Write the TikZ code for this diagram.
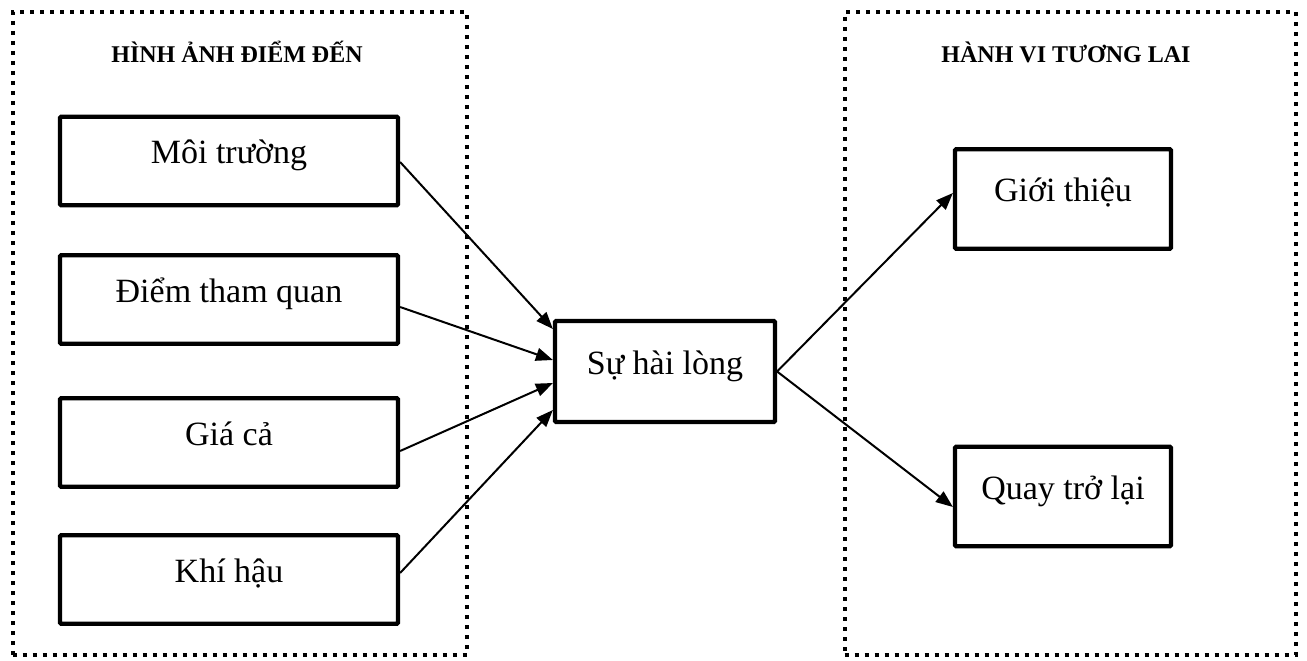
\documentclass[tikz,border=0pt]{standalone}
\usepackage{fontspec}
\setmainfont{Liberation Serif}
\usetikzlibrary{arrows.meta,calc}
\begin{document}
\begin{tikzpicture}[x=1pt,y=-1pt,
  groupbox/.style={draw, line width=4pt, dash pattern=on 4pt off 6pt,
    minimum width=#1, minimum height=643pt, inner sep=0pt},
  grouptitle/.style={font=\fontsize{24}{28}\selectfont\bfseries, inner sep=0pt},
  factor/.style={draw, line width=4.2pt, rounded corners=1pt,
    minimum width=338pt, minimum height=88.5pt, inner sep=0pt,
    text height=15pt, text depth=10pt, font=\fontsize{34}{40}\selectfont},
  hub/.style={factor, minimum width=220pt, minimum height=101pt},
  outcome/.style={factor, minimum width=216pt, minimum height=99.5pt},
  link/.style={line width=2pt, -{Triangle[length=17pt,width=13pt]}}]

\useasboundingbox (0,0) rectangle (1307,661);

% the two dotted groups and their titles
\node[groupbox=454pt] (gleft) at (239.5,333.5) {};
\node[groupbox=451pt] (gright) at (1070,333.5) {};
\node[grouptitle] (tleft) at (237,52) {HÌNH ẢNH ĐIỂM ĐẾN};
\node[grouptitle] (tright) at (1066,52) {HÀNH VI TƯƠNG LAI};

% destination image factors
\node[factor] (env) at (229,161) {Môi trường};
\node[factor] (att) at (229,299.5) {Điểm tham quan};
\node[factor] (pri) at (229,442.5) {Giá cả};
\node[factor] (cli) at (229,579.5) {Khí hậu};

% satisfaction
\node[hub] (sat) at (665,371.5) {Sự hài lòng};

% future behaviour
\node[outcome] (rec) at (1063,199) {Giới thiệu};
\node[outcome] (ret) at (1063,496.5) {Quay trở lại};

% connectors
\draw[link] ($(env.east)+(0,1)$) -- ($(sat.west)+(0,-42.5)$);
\draw[link] ($(att.east)+(0,7.5)$) -- ($(sat.west)+(0,-11.5)$);
\draw[link] ($(pri.east)+(0,8.5)$) -- ($(sat.west)+(0,11.5)$);
\draw[link] ($(cli.east)+(0,-6.5)$) -- ($(sat.west)+(0,38.5)$);
\draw[link] (sat.east) -- ($(rec.west)+(0,-6)$);
\draw[link] (sat.east) -- ($(ret.west)+(0,10.5)$);
\end{tikzpicture}
\end{document}
